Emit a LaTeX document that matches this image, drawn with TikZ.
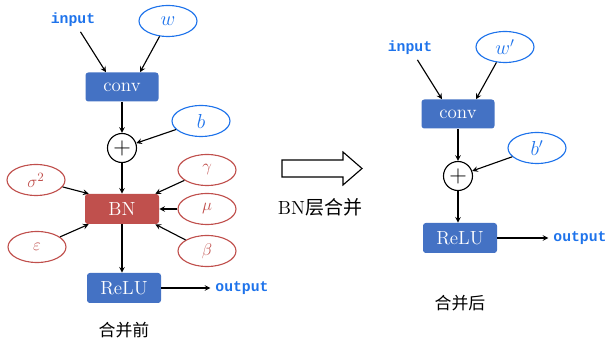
\documentclass[tikz,border=0pt]{standalone}
\usepackage{amsmath}
\usepackage{amssymb}
\usepackage{fontspec}
\setmonofont{Liberation Mono}
\newfontfamily\cjk{Noto Sans CJK SC}
\usepackage{xcolor}
\usepackage{tikz}
\usetikzlibrary{shapes.geometric, arrows}

\definecolor{boxblue}{RGB}{68,114,196}
\definecolor{boxred}{RGB}{192,80,77}
\definecolor{inkblue}{RGB}{30,115,235}

\tikzstyle{arrow} = [thick,->,>=stealth]
\tikzstyle{block} = [rectangle, rounded corners=2pt, fill=boxblue, text=white, minimum width=1.825cm, minimum height=0.725cm, font=\fontsize{13.5}{15}\selectfont]
\tikzstyle{bnbox} = [block, fill=boxred, minimum width=1.85cm, minimum height=0.75cm]
\tikzstyle{bparam} = [ellipse, draw=inkblue, thick, text=inkblue, minimum width=1.45cm, minimum height=0.775cm, inner sep=0pt, font=\fontsize{14.5}{16}\selectfont]
\tikzstyle{rparam} = [bparam, draw=boxred, text=boxred, font=\fontsize{13}{15}\selectfont]
\tikzstyle{addop} = [circle, draw, thick, minimum size=0.725cm, inner sep=0pt, font=\fontsize{18}{18}\selectfont]
\tikzstyle{io} = [text=inkblue, font=\ttfamily\bfseries\fontsize{10.5}{12}\selectfont]
\tikzstyle{caption} = [font=\cjk\fontsize{12}{14}\selectfont]

\begin{document}
\begin{tikzpicture}[node distance=1.525cm]
\useasboundingbox (0,0) rectangle (15.175,-8.55);

% before merging
\node [block] (conv1) at (3.05,-2.175) {conv};
\node [io] (in1) [above of=conv1, xshift=-1.225cm, yshift=0.15cm] {input};
\node [bparam] (w1) [above of=conv1, xshift=1.15cm, yshift=0.125cm] {$w$};
\node [addop] (add1) [below of=conv1] {$+$};
\node [bparam] (b1) [right of=add1, xshift=0.45cm, yshift=0.675cm] {$b$};
\node [bnbox] (bn) [below of=add1] {BN};
\node [rparam] (sig) [left of=bn, xshift=-0.625cm, yshift=0.725cm] {$\sigma^2$};
\node [rparam] (eps) [left of=bn, xshift=-0.6cm, yshift=-0.95cm] {$\varepsilon$};
\node [rparam] (gam) [right of=bn, xshift=0.6cm, yshift=0.975cm] {$\gamma$};
\node [rparam] (mu) [right of=bn, xshift=0.6cm] {$\mu$};
\node [rparam] (beta) [right of=bn, xshift=0.6cm, yshift=-1.05cm] {$\beta$};
\node [block] (relu1) [below of=bn, xshift=0.05cm, yshift=-0.45cm, minimum width=1.85cm, minimum height=0.75cm] {ReLU};
\node [io] (out1) [right of=relu1, xshift=1.425cm] {output};
\node [caption] (cap1) [below of=relu1, yshift=0.475cm] {合并前};

\draw [arrow] (in1) -- ([xshift=-0.4cm]conv1.north);
\draw [arrow] (w1) -- ([xshift=0.45cm]conv1.north);
\draw [arrow] (conv1) -- (add1);
\draw [arrow] (b1) -- (add1);
\draw [arrow] (add1) -- (bn);
\draw [arrow] (sig) -- ([xshift=0.1cm]bn.north west);
\draw [arrow] (eps) -- ([xshift=0.1cm]bn.south west);
\draw [arrow] (gam) -- ([xshift=-0.1cm]bn.north east);
\draw [arrow] (mu) -- (bn);
\draw [arrow] (beta) -- ([xshift=-0.1cm]bn.south east);
\draw [arrow] (bn) -- (bn |- relu1.north);
\draw [arrow] (relu1) -- (out1);

% merge arrow
\coordinate (mid) at (8.05,-4.2125);
\draw [thick, shift={(mid)}] (-1,0.2125) -- (0.525,0.2125) -- (0.525,0.4125) -- (1,0)
  -- (0.525,-0.4125) -- (0.525,-0.2125) -- (-1,-0.2125) -- cycle;
\node (merge) at (8.0,-5.175) {\fontsize{13.5}{16}\selectfont BN{\cjk 层合并}};

% after merging
\node [block] (conv2) at (11.45,-2.85) {conv};
\node [io] (in2) [above of=conv2, xshift=-1.2cm, yshift=0.125cm] {input};
\node [bparam] (w2) [above of=conv2, xshift=1.175cm, yshift=0.15cm] {$w'$};
\node [addop] (add2) [below of=conv2, yshift=-0.025cm] {$+$};
\node [bparam] (b2) [right of=add2, xshift=0.45cm, yshift=0.7cm] {$b'$};
\node [block] (relu2) [below of=add2, xshift=0.05cm, yshift=-0.025cm, minimum width=1.85cm, minimum height=0.75cm] {ReLU};
\node [io] (out2) [right of=relu2, xshift=1.475cm] {output};
\node [caption] (cap2) [below of=relu2, yshift=-0.1cm] {合并后};

\draw [arrow] (in2) -- ([xshift=-0.4cm]conv2.north);
\draw [arrow] (w2) -- ([xshift=0.45cm]conv2.north);
\draw [arrow] (conv2) -- (add2);
\draw [arrow] (b2) -- (add2);
\draw [arrow] (add2) -- (add2 |- relu2.north);
\draw [arrow] (relu2) -- (out2);
\end{tikzpicture}
\end{document}
